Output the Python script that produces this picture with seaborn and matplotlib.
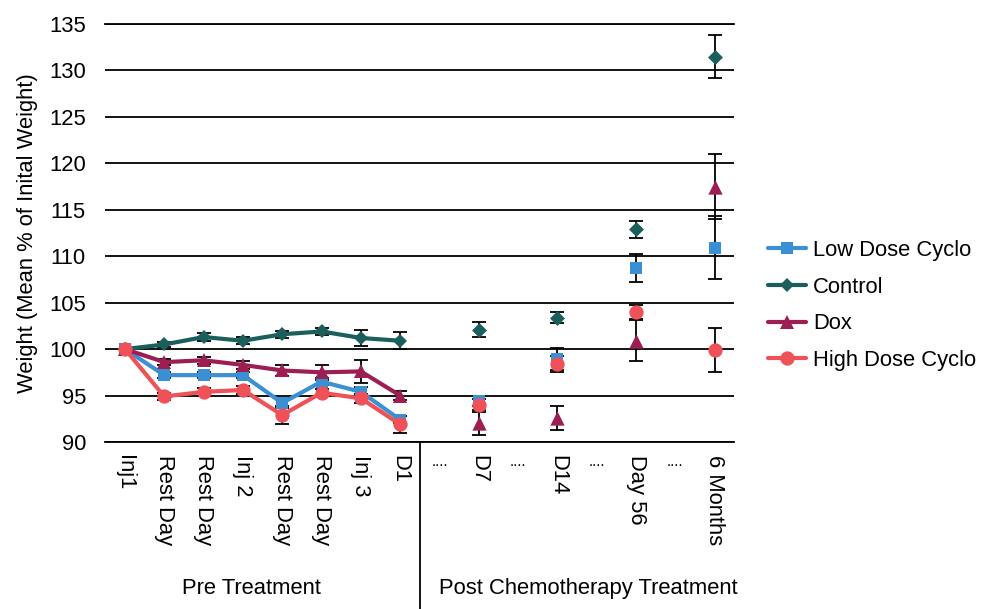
import numpy as np
import pandas as pd
import matplotlib
matplotlib.use("Agg")
import matplotlib.pyplot as plt
import seaborn as sns

# Time points: 8 pre-treatment days followed by post-treatment checkpoints
tick_labels = ["Inj1", "Rest Day", "Rest Day", "Inj 2", "Rest Day", "Rest Day", "Inj 3", "D1",
               "....", "D7", "....", "D14", "....", "Day 56", "....", "6 Months"]
n_pre = 8

series_names = ["Low Dose Cyclo", "Control", "Dox", "High Dose Cyclo"]

nan = np.nan
# Mean weight (% of initial weight) per time point
low_dose_mean = [100.0, 97.2, 97.2, 97.2, 94.2, 96.5, 95.4, 92.4,
                 nan, 94.4, nan, 98.9, nan, 108.7, nan, 110.9]
control_mean = [100.0, 100.5, 101.3, 100.9, 101.6, 101.9, 101.2, 100.9,
                nan, 102.1, nan, 103.4, nan, 112.9, nan, 131.5]
dox_mean = [100.0, 98.6, 98.8, 98.3, 97.7, 97.5, 97.6, 95.0,
            nan, 92.0, nan, 92.6, nan, 100.9, nan, 117.5]
high_dose_mean = [100.0, 94.9, 95.4, 95.6, 92.9, 95.3, 94.7, 91.9,
                  nan, 94.0, nan, 98.4, nan, 104.0, nan, 99.9]

# Standard error per time point
low_dose_err = [0.0, 0.3, 0.3, 0.3, 0.5, 0.4, 0.5, 0.4,
                nan, 0.5, nan, 1.2, nan, 1.5, nan, 3.4]
control_err = [0.0, 0.3, 0.4, 0.4, 0.4, 0.4, 0.9, 0.9,
               nan, 0.8, nan, 0.6, nan, 0.9, nan, 2.3]
dox_err = [0.0, 0.3, 0.4, 0.4, 0.6, 0.8, 1.2, 0.5,
           nan, 1.2, nan, 1.3, nan, 2.2, nan, 3.5]
high_dose_err = [0.0, 0.4, 0.4, 0.4, 1.0, 0.4, 0.5, 0.9,
                 nan, 0.6, nan, 0.9, nan, 0.8, nan, 2.4]

means = [low_dose_mean, control_mean, dox_mean, high_dose_mean]
errs = [low_dose_err, control_err, dox_err, high_dose_err]

colors = ["#3B8FD3", "#1A5F5B", "#9C1E52", "#EF5159"]
markers = ["s", "D", "^", "o"]
msizes = [9.3, 7.6, 10.3, 10.3]

rows = []
for name, m, e in zip(series_names, means, errs):
    for i, (v, se) in enumerate(zip(m, e)):
        if not np.isnan(v):
            rows.append({"pos": i, "weight": v, "err": se, "group": name,
                         "phase": "pre" if i < n_pre else "post"})
df = pd.DataFrame(rows)

sns.set_style("white")
plt.rcParams["font.family"] = ["Liberation Sans", "DejaVu Sans"]
plt.rcParams["font.size"] = 15.8
plt.rcParams["text.color"] = "black"
plt.rcParams["axes.labelcolor"] = "black"
plt.rcParams["xtick.color"] = "black"
plt.rcParams["ytick.color"] = "black"

fig = plt.figure(figsize=(9.89, 6.09), dpi=100)
ax = fig.add_axes([0.1065, 0.2742, 0.6360, 0.6864])

for name, col, mk, ms in zip(series_names, colors, markers, msizes):
    sub = df[df["group"] == name]
    pre = sub[sub["phase"] == "pre"]
    post = sub[sub["phase"] == "post"]
    ax.errorbar(sub["pos"], sub["weight"], yerr=sub["err"], fmt="none",
                ecolor="black", elinewidth=1.3, capsize=5, capthick=1.3, zorder=2)
    sns.lineplot(data=pre, x="pos", y="weight", color=col, marker=mk, markersize=ms,
                 markeredgewidth=0, linewidth=3, label=name, ax=ax, zorder=3,
                 errorbar=None)
    sns.scatterplot(data=post, x="pos", y="weight", color=col, marker=mk,
                    s=ms ** 2, linewidth=0, ax=ax, zorder=3, legend=False)

ax.set_xlim(-0.5, len(tick_labels) - 0.5)
ax.set_ylim(90, 135)
ax.set_yticks(np.arange(90, 136, 5))
ax.yaxis.grid(True, color="black", linewidth=1.3)
ax.set_axisbelow(True)
for side in ["left", "right"]:
    ax.spines[side].set_visible(False)
for side in ["top", "bottom"]:
    ax.spines[side].set_color("black")
    ax.spines[side].set_linewidth(1.3)

ax.set_xticks(np.arange(len(tick_labels)))
ax.set_xticklabels(tick_labels)
for lab in ax.get_xticklabels():
    if lab.get_text() == "....":
        lab.set_rotation(0)
        lab.set_fontsize(11)
        lab.set_va("top")
        lab.set_ha("center")
    else:
        lab.set_rotation(270)
        lab.set_va("top")
        lab.set_ha("center")
ax.tick_params(axis="x", length=0, pad=9)
ax.tick_params(axis="y", length=0, pad=14)

ax.set_xlabel("")
ax.set_ylabel("Weight (Mean % of Inital Weight)", labelpad=8)

# Group separator and group titles under the category axis
trans = ax.get_xaxis_transform()
ax.plot([n_pre - 0.5, n_pre - 0.5], [0, -0.41], transform=trans, color="black",
        linewidth=1.3, clip_on=False)
ax.text(3.21, -0.35, "Pre Treatment", transform=trans, ha="center", va="center")
ax.text(11.78, -0.35, "Post Chemotherapy Treatment", transform=trans,
        ha="center", va="center")

leg = ax.legend(loc="center left", bbox_to_anchor=(0.7655, 0.4985),
                bbox_transform=fig.transFigure, frameon=False, borderpad=0,
                handlelength=1.75, handletextpad=0.3, labelspacing=0.71)

fig.savefig("out.png", dpi=100)
